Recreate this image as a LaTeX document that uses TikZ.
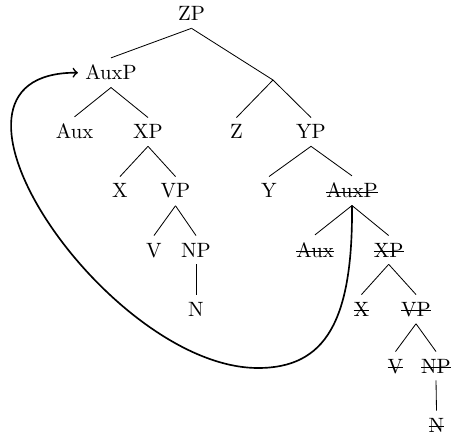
\documentclass[tikz,border=0pt]{standalone}
\newsavebox{\strkbox}
\newcommand{\strk}[1]{\sbox{\strkbox}{#1}\rlap{\rule[2.4pt]{\wd\strkbox}{0.4pt}}\usebox{\strkbox}}
\begin{document}
\begin{tikzpicture}[x=0.4831pt,y=-0.4831pt,
  lbl/.style={anchor=base},
  branch/.style={line width=0.4pt},
  move/.style={thick,->}]
\useasboundingbox (0,0) rectangle (451,436);
% left / top
\node[lbl] (ZP) at (191.5,21) {ZP};
\node[lbl] (AuxP) at (111,80) {AuxP};
\coordinate (C) at (273,80);
\node[lbl] (Aux) at (74.5,139) {Aux};
\node[lbl] (XP) at (148,139) {XP};
\node[lbl] (Z) at (236.5,139) {Z};
\node[lbl] (YP) at (311,139) {YP};
\node[lbl] (X) at (120,198) {X};
\node[lbl] (VP) at (175.5,198) {VP};
\node[lbl] (Y) at (269,198) {Y};
\node[lbl] (AuxPb) at (352,198) {\strk{AuxP}};
\node[lbl] (V) at (154,257) {V};
\node[lbl] (NP) at (196,257) {NP};
\node[lbl] (Auxb) at (315,257) {\strk{Aux}};
\node[lbl] (XPb) at (388.7,257) {\strk{XP}};
\node[lbl] (N) at (196,316) {N};
\node[lbl] (Xb) at (361.5,316) {\strk{X}};
\node[lbl] (VPb) at (416,316) {\strk{VP}};
\node[lbl] (Vb) at (395.5,373) {\strk{V}};
\node[lbl] (NPb) at (436,373) {\strk{NP}};
\node[lbl] (Nb) at (436.5,432) {\strk{N}};
% branches
\draw[branch] (ZP.south) -- (AuxP.north);
\draw[branch] (ZP.south) -- (C);
\draw[branch] (AuxP.south) -- (Aux.north);
\draw[branch] (AuxP.south) -- (XP.north);
\draw[branch] (C) -- (Z.north);
\draw[branch] (C) -- (YP.north);
\draw[branch] (XP.south) -- (X.north);
\draw[branch] (XP.south) -- (VP.north);
\draw[branch] (VP.south) -- (V.north);
\draw[branch] (VP.south) -- (NP.north);
\draw[branch] (NP.south) -- (N.north);
\draw[branch] (YP.south) -- (Y.north);
\draw[branch] (YP.south) -- (AuxPb.north);
\draw[branch] (AuxPb.south) -- (Auxb.north);
\draw[branch] (AuxPb.south) -- (XPb.north);
\draw[branch] (XPb.south) -- (Xb.north);
\draw[branch] (XPb.south) -- (VPb.north);
\draw[branch] (VPb.south) -- (Vb.north);
\draw[branch] (VPb.south) -- (NPb.north);
\draw[branch] (NPb.south) -- (Nb.north);
% movement arrow
\coordinate (bot) at (258,368);
\draw[move] (AuxPb.south) .. controls (353,322) and (325,368) .. (bot)
  .. controls (108,368) and (-95,72) .. (AuxP.west);
\end{tikzpicture}
\end{document}
